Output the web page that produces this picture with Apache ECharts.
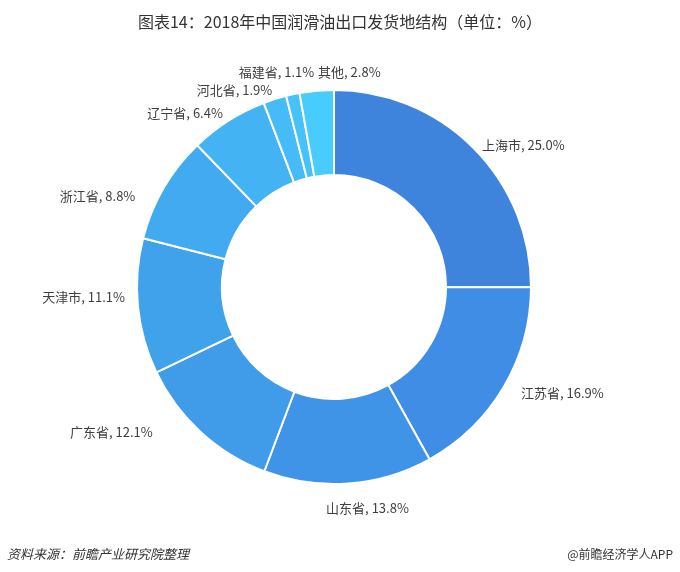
<!DOCTYPE html>
<html>
<head>
<meta charset="utf-8">
<script src="https://cdn.jsdelivr.net/npm/echarts@6/dist/echarts.min.js"></script>
<style>
html,body{margin:0;padding:0;background:#fff;}
#c{width:680px;height:572px;}
</style>
</head>
<body>
<div id="c"></div>
<script>
const categories = ['上海市','江苏省','山东省','广东省','天津市','浙江省','辽宁省','河北省','福建省','其他'];
const values = [25.0, 16.9, 13.8, 12.1, 11.1, 8.8, 6.4, 1.9, 1.1, 2.8];
const colors = ['#3e84dd','#3f8de4','#3f94e8','#409be9','#41a2ec','#42aaf0','#44b3f4','#45bbf7','#46c2fa','#48cbfd'];
// label nudges (style only) to mimic the original label placement
const labelNudge = [[-7,6],[0,0],[-30,13],[-33,-9],[6,-11],[-11,14],[8,2],[8,2],[31,-11],[72,-7]];

const chart = echarts.init(document.getElementById('c'));
chart.setOption({
  backgroundColor: '#fff',
  animation: false,
  title: [
    {text: '图表14：2018年中国润滑油出口发货地结构（单位：%）', left: 'center', top: 9,
     textStyle: {fontSize: 16, fontWeight: 'normal', color: '#333', fontFamily: 'Noto Sans CJK SC'}},
    {text: '资料来源：前瞻产业研究院整理', left: 2, top: 543,
     textStyle: {fontSize: 13, fontWeight: 'normal', fontStyle: 'italic', color: '#333', fontFamily: 'Noto Sans CJK SC'}},
    {text: '@前瞻经济学人APP', right: 2, top: 543,
     textStyle: {fontSize: 12, fontWeight: 'normal', color: '#333', fontFamily: 'Noto Sans CJK SC'}}
  ],
  series: [{
    type: 'pie',
    center: [334, 287],
    radius: [112, 197],
    startAngle: 90,
    clockwise: true,
    avoidLabelOverlap: false,
    labelLayout: {hideOverlap: false},
    itemStyle: {borderColor: '#fff', borderWidth: 2},
    label: {
      show: true,
      position: 'outside',
      formatter: p => p.name + ', ' + p.value.toFixed(1) + '%',
      color: '#404040',
      fontSize: 13,
      fontFamily: 'Noto Sans CJK SC'
    },
    labelLine: {show: false, length: 12, length2: 2},
    data: categories.map((c, i) => ({
      name: c, value: values[i],
      itemStyle: {color: colors[i]},
      label: {offset: labelNudge[i]}
    }))
  }]
});
</script>
</body>
</html>
